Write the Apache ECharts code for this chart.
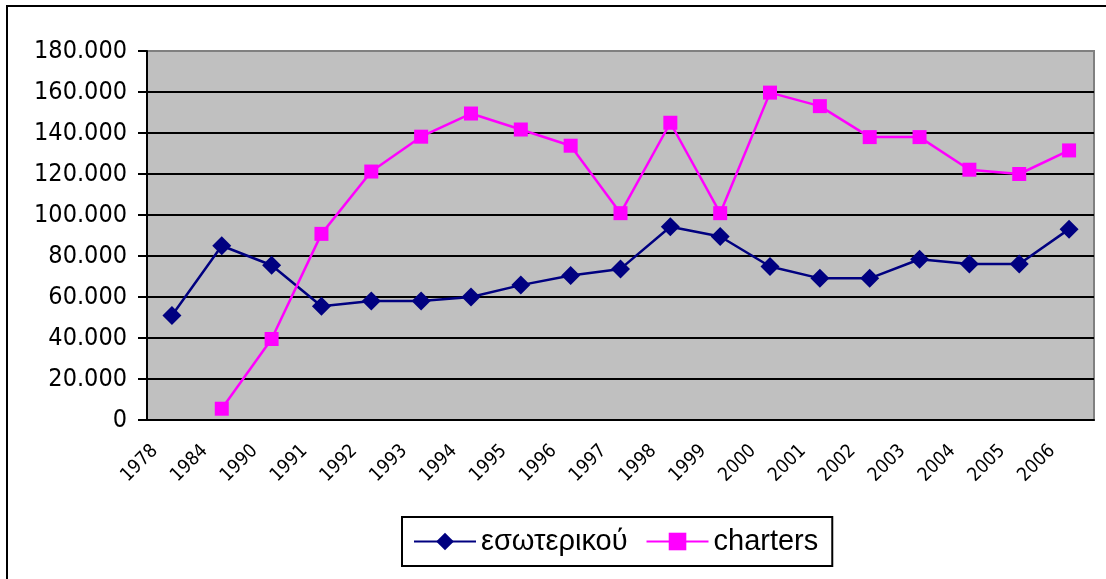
<!DOCTYPE html>
<html>
<head>
<meta charset="utf-8">
<script src="https://cdn.jsdelivr.net/npm/echarts@6/dist/echarts.min.js"></script>
<style>
  html, body { margin: 0; padding: 0; background: #fff; }
  #chart { width: 1106px; height: 579px; }
</style>
</head>
<body>
<div id="chart"></div>
<script>
const years = ['1978', '1984', '1990', '1991', '1992', '1993', '1994', '1995', '1996', '1997',
  '1998', '1999', '2000', '2001', '2002', '2003', '2004', '2005', '2006']
const esoterikou = [51000, 85000, 75500, 55500, 58000, 58000, 60000, 65800, 70500, 73700,
  94300, 89500, 74900, 69100, 69100, 78400, 76100, 76100, 93100]
const charters = [null, 5500, 39500, 90800, 121200, 138200, 149500, 141700, 133800, 100900,
  145000, 100900, 159700, 153100, 138000, 138000, 122100, 120000, 131500]

const axisFont = 'DejaVu Sans Condensed, Liberation Sans, sans-serif'

// dotted thousands, e.g. 120.000
const fmt = v => String(v).replace(/\B(?=(\d{3})+(?!\d))/g, '.')

const chart = echarts.init(document.getElementById('chart'))

chart.setOption({
  animation: false,
  graphic: [{
    type: 'rect',
    shape: { x: 7, y: 6, width: 1120, height: 600 },
    style: { fill: 'none', stroke: '#000', lineWidth: 2 },
    z: 100
  }],
  grid: [
    {
      left: 147, top: 51, right: 12, bottom: 159,
      show: true, backgroundColor: '#C0C0C0', borderColor: '#808080', borderWidth: 2
    },
    // labels only, shifted left like the original
    { left: 130, top: 51, right: 29, bottom: 159 }
  ],
  xAxis: [
    {
      type: 'category',
      data: years,
      gridIndex: 0,
      boundaryGap: true,
      axisLine: { lineStyle: { color: '#000', width: 2 } },
      axisTick: { length: 7, lineStyle: { color: '#000', width: 2 } },
      axisLabel: { show: false },
      splitLine: { show: false }
    },
    {
      type: 'category',
      data: years,
      gridIndex: 1,
      boundaryGap: true,
      axisLine: { show: false },
      axisTick: { show: false },
      axisLabel: {
        rotate: 45, margin: 28, interval: 0,
        color: '#000', fontSize: 19, fontFamily: axisFont
      }
    }
  ],
  yAxis: [
    {
      type: 'value',
      gridIndex: 0,
      min: 0, max: 180000, interval: 20000,
      axisLine: { show: true, lineStyle: { color: '#000', width: 2 } },
      axisTick: { show: true, length: 9, lineStyle: { color: '#000', width: 2 } },
      axisLabel: {
        margin: 20, color: '#000', fontSize: 25, fontFamily: axisFont,
        formatter: fmt
      },
      splitLine: { show: true, showMaxLine: false, lineStyle: { color: '#000', width: 2 } }
    },
    { type: 'value', gridIndex: 1, show: false }
  ],
  legend: {
    left: 402, top: 517,
    padding: [10, 14, 10, 11],
    borderColor: '#000', borderWidth: 2,
    itemWidth: 62, itemHeight: 22, itemGap: 18,
    textStyle: { fontSize: 29, color: '#000', fontFamily: 'Liberation Sans, Arial, sans-serif' },
    data: ['εσωτερικού', 'charters']
  },
  series: [
    {
      name: 'εσωτερικού',
      type: 'line',
      data: esoterikou,
      symbol: 'diamond',
      symbolSize: 19,
      lineStyle: { color: '#000080', width: 2.5 },
      itemStyle: { color: '#000080' }
    },
    {
      name: 'charters',
      type: 'line',
      data: charters,
      symbol: 'rect',
      symbolSize: 14,
      lineStyle: { color: '#FF00FF', width: 2.5 },
      itemStyle: { color: '#FF00FF' }
    }
  ]
})
</script>
</body>
</html>
